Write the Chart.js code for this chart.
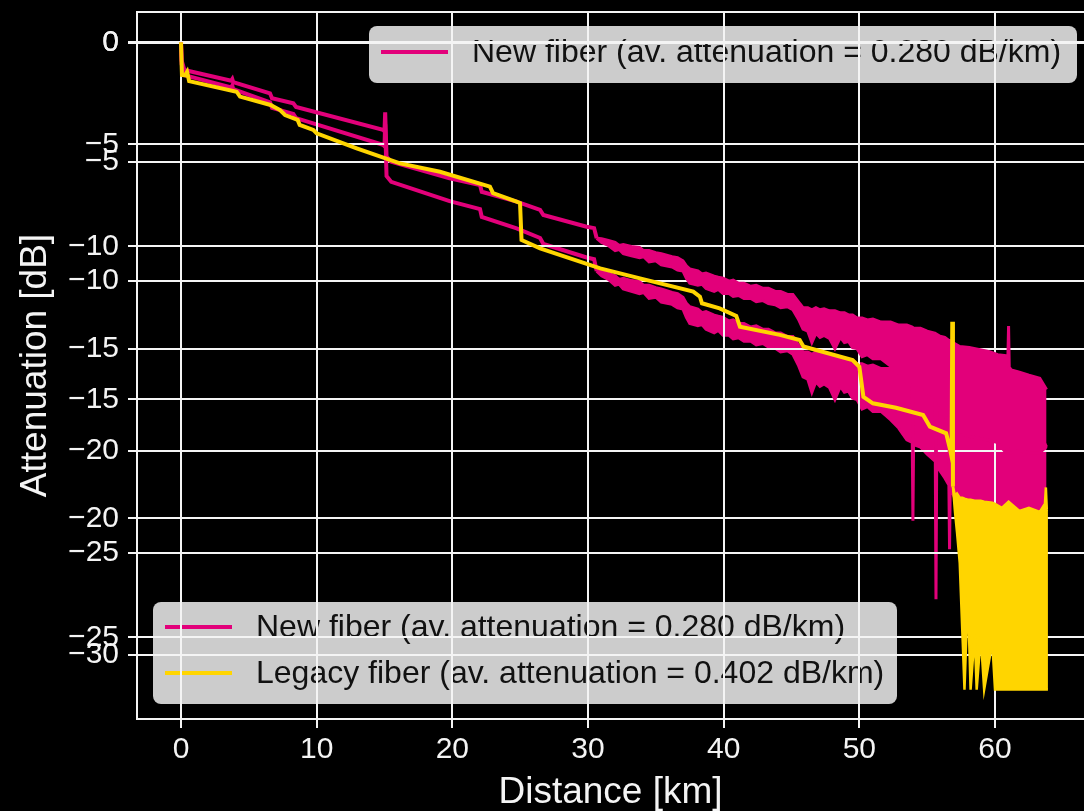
<!DOCTYPE html>
<html>
<head>
<meta charset="utf-8">
<title>Fiber attenuation</title>
<script src="https://cdn.jsdelivr.net/npm/chart.js@4.4.1/dist/chart.umd.min.js"></script>
<style>
  html, body { margin: 0; padding: 0; background: #000; }
  canvas { display: block; }
</style>
</head>
<body>
<canvas id="chart" width="1084" height="811"></canvas>
<script>
// ticks: x axis and the two overlaid y scales
const distanceTicks = [0, 10, 20, 30, 40, 50, 60];
const outerTicks = [0, -5, -10, -15, -20, -25, -30];
const innerTicks = [0, -5, -10, -15, -20, -25];

// new fiber, clean part of the trace (km / dB)
const newLineKm = [0, 0.05, 0.25, 3.7, 3.78, 3.85, 6.56, 6.71, 8.28, 8.48, 14.89, 15.0, 15.05, 15.15, 15.5, 19.8, 22.04, 22.17, 24.74, 26.47, 26.71, 29.9, 30.45, 30.64];
const newLineDb = [0, -0.9, -1.36, -1.88, -1.8, -1.95, -2.5, -2.74, -2.99, -3.17, -4.29, -4.35, -3.43, -5.6, -5.85, -6.66, -6.99, -7.32, -7.8, -8.21, -8.46, -9.03, -9.1, -9.6];

// new fiber, noisy tail: upper and lower edge of the trace
const newBandKm = [30.64, 31.0, 31.5, 32.0, 32.3, 32.6, 33.2, 33.8, 34.1, 34.5,
  35.0, 35.4, 36.2, 36.6, 37.0, 37.25, 37.5, 38.1, 38.4, 38.7,
  39.3, 39.6, 39.95, 40.4, 40.7, 41.1, 41.5, 42.0, 42.4, 42.9,
  43.3, 43.8, 44.2, 44.7, 45.1, 45.5, 45.85, 46.2, 46.5, 46.8,
  47.1, 47.4, 47.8, 48.2, 48.6, 48.9, 49.2, 49.5, 49.83, 50.2,
  50.6, 51.0, 51.6, 52.3, 52.9, 53.5, 53.9, 53.95, 54.0, 54.5,
  55.0, 55.6, 55.65, 55.7, 55.95, 56.3, 56.6, 56.65, 56.7, 57.0,
  57.4, 58.1, 58.9, 59.6, 60.2, 60.8, 60.95, 61.0, 61.05, 61.2,
  61.8, 62.5, 63.3, 63.8];
const newBandTop = [-9.6, -9.62, -9.7, -9.8, -9.95, -9.9, -10.0, -10.05, -10.2, -10.2,
  -10.3, -10.35, -10.5, -10.55, -10.7, -10.95, -11.1, -11.2, -11.35, -11.3,
  -11.45, -11.5, -11.55, -11.7, -11.65, -11.8, -11.8, -11.95, -11.9, -12.05,
  -12.05, -12.2, -12.2, -12.35, -12.35, -12.7, -13.0, -13.0, -13.1, -13.0,
  -13.1, -13.05, -13.15, -13.15, -13.25, -13.25, -13.35, -13.35, -13.5, -13.5,
  -13.6, -13.55, -13.7, -13.7, -13.85, -13.85, -13.95, -13.95, -14.0, -14.0,
  -14.15, -14.25, -14.3, -14.3, -14.4, -14.45, -14.6, -14.6, -14.7, -14.75,
  -14.9, -14.95, -15.05, -15.15, -15.3, -15.35, -15.45, -13.9, -15.9, -16.05,
  -16.15, -16.3, -16.45, -17.0];
const newBandBottom = [-9.6, -9.8, -9.95, -10.2, -10.15, -10.35, -10.45, -10.55, -10.5, -10.75,
  -10.7, -10.9, -11.0, -11.15, -11.2, -11.55, -11.8, -11.9, -11.85, -12.05,
  -12.2, -12.1, -12.3, -12.3, -12.45, -12.4, -12.55, -12.55, -12.7, -12.65,
  -12.8, -12.85, -13.0, -12.95, -13.1, -13.55, -14.05, -14.15, -14.7, -14.25,
  -14.45, -14.35, -14.5, -15.0, -14.45, -14.7, -14.65, -14.95, -15.0, -15.4,
  -15.3, -15.5, -15.5, -15.85, -16.2, -16.7, -16.8, -20.1, -16.9, -17.0,
  -17.3, -17.6, -23.4, -17.8, -18.0, -18.3, -18.6, -21.3, -18.7, -19.1,
  -19.2, -19.3, -19.4, -19.5, -19.6, -20.1, -20.1, -20.0, -20.1, -20.1,
  -20.0, -20.1, -20.1, -19.8];

// legacy fiber, clean part of the trace
const legacyLineKm = [0, 0.07, 0.3, 0.45, 0.6, 4.1, 4.35, 6.6, 7.3, 7.67,
  8.6, 8.75, 9.75, 10.0, 12.95, 16.14, 19.09, 22.77, 23.0, 24.74,
  24.99, 25.1, 26.47, 30.9, 33.83, 37.76, 38.25, 38.4, 39.7, 40.93,
  41.2, 44.14, 45.6, 45.88, 49.5, 50.0, 50.3, 51.0, 52.7, 54.7,
  55.2, 56.4, 56.7, 56.8, 56.85, 56.9];
const legacyLineDb = [0, -1.6, -1.62, -1.45, -1.9, -2.42, -2.66, -3.07, -3.32, -3.56,
  -3.8, -4.05, -4.29, -4.46, -5.19, -5.93, -6.34, -7.07, -7.39, -7.8,
  -7.87, -9.68, -10.09, -11.07, -11.56, -12.21, -12.46, -12.78, -13.03, -13.4,
  -13.93, -14.33, -14.58, -14.9, -15.56, -15.89, -17.36, -17.68, -17.9, -18.25,
  -18.82, -19.15, -19.97, -20.3, -13.68, -21.76];

// legacy fiber, noisy tail down to the noise floor
const legacyBandKm = [56.9, 57.05, 57.2, 57.4, 57.6, 57.75, 58.0, 58.2, 58.5, 58.65,
  58.95, 59.2, 59.8, 60.0, 60.5, 61.0, 61.8, 62.5, 63.3, 63.68,
  63.75, 63.82, 63.9];
const legacyBandTop = [-21.76, -22.2, -22.1, -22.3, -22.3, -22.35, -22.4, -22.4, -22.45, -22.45,
  -22.45, -22.5, -22.55, -22.6, -22.8, -22.5, -22.95, -22.8, -23.0, -22.6,
  -21.8, -22.9, -22.9];
const legacyBandBottom = [-21.76, -23.0, -24.0, -25.5, -29.0, -31.7, -27.0, -31.7, -29.0, -31.7,
  -29.1, -31.7, -29.4, -31.7, -31.7, -31.7, -31.7, -31.7, -31.7, -31.7,
  -31.7, -31.7, -31.7];

const newLabel = 'New fiber (av. attenuation = 0.280 dB/km)';
const legacyLabel = 'Legacy fiber (av. attenuation = 0.402 dB/km)';

const MAGENTA = '#e2007a';
const YELLOW = '#ffd500';
const WHITE = '#f4f4f4';
const FONT = '"Liberation Sans", Arial, sans-serif';

Chart.defaults.font.family = FONT;
Chart.defaults.color = WHITE;

const pts = (xs, ys) => xs.map((x, i) => ({ x: x, y: ys[i] }));

function trace(data, color, axis, extra) {
  return Object.assign({
    data: data,
    borderColor: color,
    backgroundColor: color,
    borderWidth: 4,
    pointRadius: 0,
    tension: 0,
    fill: false,
    yAxisID: axis,
  }, extra || {});
}

const minusFmt = v => (v < 0 ? '\u2212' + (-v) : String(v));

function yScale(min, max, ticks, weight, width, withTitle) {
  return {
    type: 'linear',
    position: 'left',
    min: min,
    max: max,
    weight: weight,
    afterBuildTicks: s => { s.ticks = ticks.map(v => ({ value: v })); },
    afterFit: s => { s.width = width; s.paddingTop = 0; s.paddingBottom = 0; },
    grid: { color: WHITE, lineWidth: 2, tickLength: 9, tickColor: WHITE, tickWidth: 2 },
    border: { display: true, color: WHITE, width: 2 },
    ticks: { autoSkip: false, padding: 9, color: WHITE, font: { size: 30, lineHeight: 1.2 }, callback: minusFmt },
    title: {
      display: withTitle,
      text: 'Attenuation [dB]',
      color: WHITE,
      font: { size: 37, lineHeight: 1.2 },
      padding: { top: 14, bottom: 0 },
    },
  };
}

function drawLegendBox(ctx, x, y, w, h, rows, firstRowY, rowGap) {
  ctx.save();
  ctx.fillStyle = '#cccccc';
  ctx.beginPath();
  if (ctx.roundRect) ctx.roundRect(x, y, w, h, 8); else ctx.rect(x, y, w, h);
  ctx.fill();
  ctx.font = '32px ' + FONT;
  ctx.textBaseline = 'middle';
  ctx.textAlign = 'left';
  rows.forEach(([text, color], i) => {
    const ry = firstRowY + i * rowGap;
    ctx.strokeStyle = color;
    ctx.lineWidth = 4;
    ctx.beginPath();
    ctx.moveTo(x + 12, ry);
    ctx.lineTo(x + 79, ry);
    ctx.stroke();
    ctx.fillStyle = '#111';
    ctx.fillText(text, x + 103, ry + 1);
  });
  ctx.restore();
}

// legends sit under the grid, like in the original figure
const legendsAndFrame = {
  id: 'legendsAndFrame',
  afterLayout(chart) {
    // second y scale shares the same label strip as the first one
    const b = chart.scales.yB;
    b.left = chart.scales.yA.left;
    b.width = b.right - b.left;
  },
  beforeDraw(chart) {
    const ctx = chart.ctx;
    drawLegendBox(ctx, 369, 26, 708, 57, [[newLabel, MAGENTA]], 52, 0);
    drawLegendBox(ctx, 153, 602, 744, 102, [[newLabel, MAGENTA], [legacyLabel, YELLOW]], 627, 46);
  },
  afterDraw(chart) {
    const { left, right, top } = chart.chartArea;
    const ctx = chart.ctx;
    ctx.save();
    ctx.strokeStyle = WHITE;
    ctx.lineWidth = 2;
    ctx.beginPath();
    ctx.moveTo(left - 1, top);
    ctx.lineTo(right, top);
    ctx.stroke();
    ctx.restore();
  },
};

// the second axes' grid is drawn over the first axes' trace
const regrid = {
  id: 'regrid',
  afterDatasetDraw(chart, args) {
    if (!chart.data.datasets[args.index].regrid) return;
    chart.ctx.save();
    chart.scales.x.drawGrid(chart.chartArea);
    chart.scales.yA.drawGrid(chart.chartArea);
    chart.ctx.restore();
  },
};

new Chart(document.getElementById('chart'), {
  type: 'line',
  data: {
    datasets: [
      trace(pts(legacyLineKm, legacyLineDb), YELLOW, 'yA'),
      trace(pts(legacyBandKm, legacyBandTop), YELLOW, 'yA', { borderWidth: 2.5 }),
      trace(pts(legacyBandKm, legacyBandBottom), YELLOW, 'yA', { borderWidth: 2.5, fill: '-1' }),
      trace(pts(newLineKm, newLineDb), MAGENTA, 'yA'),
      trace(pts(newBandKm, newBandTop), MAGENTA, 'yA', { borderWidth: 3 }),
      trace(pts(newBandKm, newBandBottom), MAGENTA, 'yA', { borderWidth: 3, fill: '-1' }),
      trace(pts(newLineKm, newLineDb), MAGENTA, 'yB', { regrid: true }),
      trace(pts(newBandKm, newBandTop), MAGENTA, 'yB', { borderWidth: 3 }),
      trace(pts(newBandKm, newBandBottom), MAGENTA, 'yB', { borderWidth: 3, fill: '-1' }),
    ],
  },
  options: {
    responsive: false,
    animation: false,
    devicePixelRatio: 1,
    events: [],
    layout: { padding: { top: 12, left: 0, right: 0, bottom: 0 } },
    plugins: {
      legend: { display: false },
      tooltip: { enabled: false },
    },
    scales: {
      x: {
        type: 'linear',
        position: 'bottom',
        min: -3.243,
        max: 66.56,
        afterBuildTicks: s => { s.ticks = distanceTicks.map(v => ({ value: v })); },
        afterFit: s => { s.height = 92; s.paddingLeft = 0; s.paddingRight = 0; },
        grid: { color: WHITE, lineWidth: 2, tickLength: 9, tickColor: WHITE, tickWidth: 2 },
        border: { display: true, color: WHITE, width: 2 },
        ticks: { autoSkip: false, maxRotation: 0, padding: 4, color: WHITE, font: { size: 30, lineHeight: 1.2 }, callback: v => String(v) },
        title: {
          display: true,
          text: 'Distance [km]',
          color: WHITE,
          font: { size: 37, lineHeight: 1.0 },
          padding: { top: 0, bottom: 0 },
        },
      },
      yA: yScale(-33.14, 1.484, outerTicks, 1, 137, true),
      yB: yScale(-28.436, 1.295, innerTicks, 0, 0, false),
    },
  },
  plugins: [legendsAndFrame, regrid],
});
</script>
</body>
</html>
